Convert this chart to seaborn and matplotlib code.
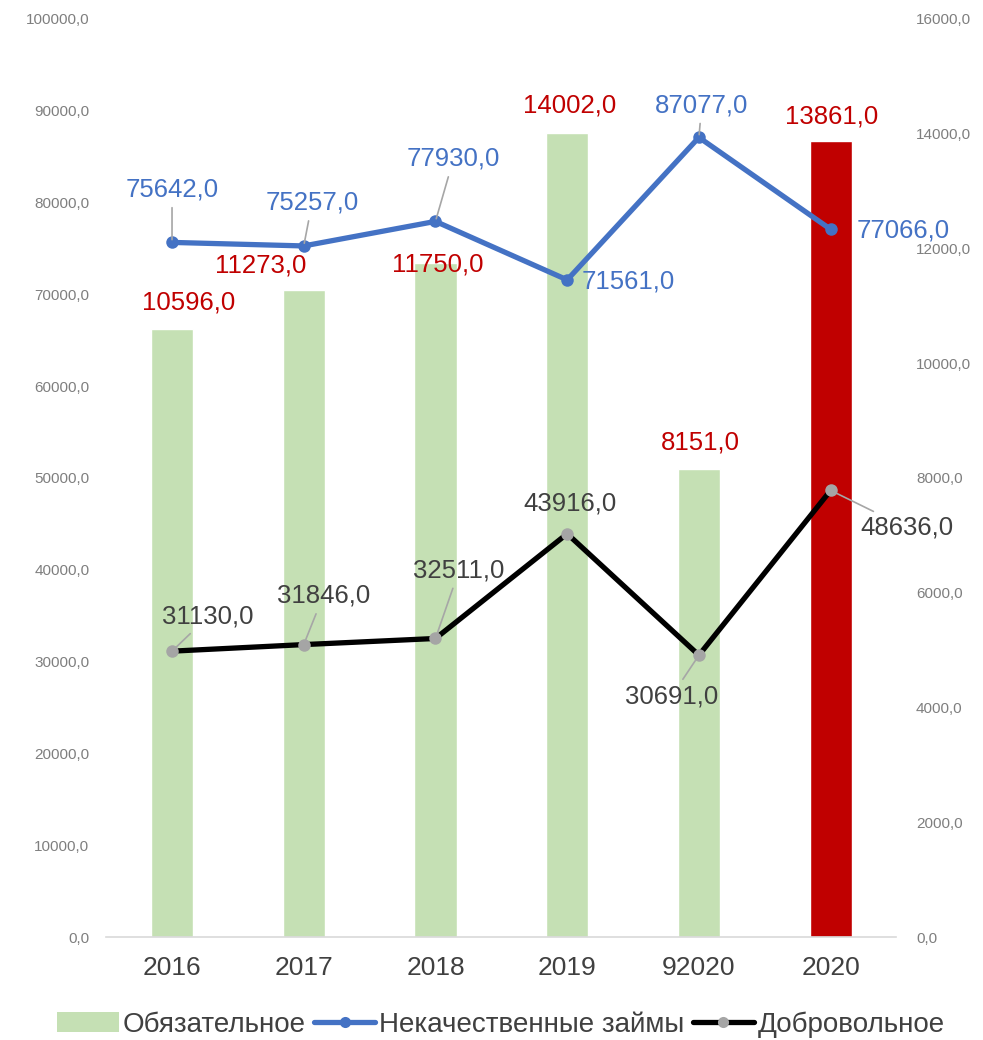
import numpy as np
import pandas as pd
import matplotlib
matplotlib.use("Agg")
import matplotlib.pyplot as plt
from matplotlib.lines import Line2D
from matplotlib.patches import Patch
import seaborn as sns

years = ["2016", "2017", "2018", "2019", "92020", "2020"]
obyaz = [10596, 11273, 11750, 14002, 8151, 13861]
nekach = [75642, 75257, 77930, 71561, 87077, 77066]
dobrov = [31130, 31846, 32511, 43916, 30691, 48636]
bar_colors = ["#C5E0B4", "#C5E0B4", "#C5E0B4", "#C5E0B4", "#C5E0B4", "#C00000"]

# label offsets (points) relative to point / bar top
off_bar = [(12, 19), (-31, 18), (2, -1), (2, 20), (1, 19), (1, 18)]
off_blue = [(0, 38), (6, 31), (13, 45), (44, -1), (2, 23), (52, -1)]
lead_blue = [True, True, True, False, True, False]
off_black = [(26, 25), (14, 35), (17, 49), (2, 22), (-20, -30), (55, -27)]
lead_black = [True, True, True, False, True, True]

sns.set_style("white")
plt.rcParams["font.family"] = ["Liberation Sans", "DejaVu Sans"]

def fmt(v):
    return f"{v:.1f}".replace(".", ",")

fig = plt.figure(figsize=(9.83, 10.4), dpi=100)
ax = fig.add_axes([0.108, 0.099, 0.804, 0.883])

df = pd.DataFrame({"year": years, "val": obyaz})
sns.barplot(data=df, x="year", y="val", hue="year", palette=bar_colors,
            legend=False, width=0.32, ax=ax, saturation=1)
ax.set_ylim(0, 16000)
ax.set_xlim(-0.5, 5.5)
ax.set_xlabel("")
ax.set_ylabel("")

ax2 = ax.twinx()
x = np.arange(len(years))
sns.lineplot(x=x, y=nekach, ax=ax2, color="#4472C4", linewidth=3.8,
             marker="o", markersize=9, markeredgewidth=0, sort=False, zorder=4)
sns.lineplot(x=x, y=dobrov, ax=ax2, color="black", linewidth=3.8,
             marker="o", markersize=9, markerfacecolor="#A5A5A5",
             markeredgewidth=0, sort=False, zorder=4)
ax2.set_ylim(0, 100000)

# bars axis -> right side, lines axis -> left side
ax.yaxis.tick_right()
ax.yaxis.set_label_position("right")
ax2.yaxis.tick_left()
ax2.yaxis.set_label_position("left")

ax.set_yticks(np.arange(0, 16001, 2000))
ax.set_yticklabels([fmt(v) for v in np.arange(0, 16001, 2000)])
ax.tick_params(axis="y", length=0, pad=14, labelsize=11, labelcolor="#7F7F7F")
ax.tick_params(axis="x", length=0, pad=14, labelsize=19, labelcolor="#404040")
for s in ["top", "left", "right"]:
    ax.spines[s].set_visible(False)
ax.spines["bottom"].set_color("#D9D9D9")
ax.spines["bottom"].set_linewidth(1.2)

ax2.set_yticks(np.arange(0, 100001, 10000))
ax2.set_yticklabels([fmt(v) for v in np.arange(0, 100001, 10000)])
ax2.tick_params(axis="y", length=0, pad=12, labelsize=11, labelcolor="#7F7F7F")
ax2.set_ylabel("")
for s in ["top", "left", "right", "bottom"]:
    ax2.spines[s].set_visible(False)

for i, v in enumerate(obyaz):
    ax2.annotate(fmt(v), (i, v / 16000 * 100000), xytext=off_bar[i],
                 textcoords="offset points", ha="center", va="center",
                 fontsize=18.5, color="#C00000", zorder=6)

for i, v in enumerate(nekach):
    ap = dict(arrowstyle="-", color="#A6A6A6", lw=1.2, shrinkA=2, shrinkB=2) if lead_blue[i] else None
    ax2.annotate(fmt(v), (i, v), xytext=off_blue[i], textcoords="offset points",
                 ha="center", va="center", fontsize=18.5, color="#4472C4",
                 arrowprops=ap, zorder=6)
for i, v in enumerate(dobrov):
    ap = dict(arrowstyle="-", color="#A6A6A6", lw=1.2, shrinkA=2, shrinkB=2) if lead_black[i] else None
    ax2.annotate(fmt(v), (i, v), xytext=off_black[i], textcoords="offset points",
                 ha="center", va="center", fontsize=18.5, color="#404040",
                 arrowprops=ap, zorder=6)

handles = [
    Patch(facecolor="#C5E0B4", edgecolor="none"),
    Line2D([], [], color="#4472C4", lw=3.8, marker="o", markersize=8, markeredgewidth=0),
    Line2D([], [], color="black", lw=3.8, marker="o", markersize=8,
           markerfacecolor="#A5A5A5", markeredgewidth=0),
]
labels = ["Обязательное", "Некачественные займы", "Добровольное"]
fig.legend(handles, labels, loc="lower center", bbox_to_anchor=(0.51, -0.022),
           ncol=3, frameon=False, fontsize=20, handlelength=2.2,
           handletextpad=0.15, columnspacing=0.3, labelcolor="#404040")

fig.savefig("out.png", dpi=100, facecolor="white")
